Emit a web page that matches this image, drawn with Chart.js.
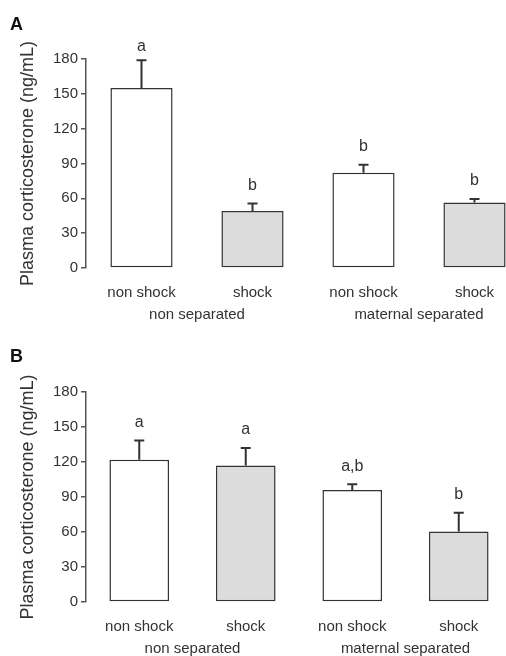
<!DOCTYPE html>
<html>
<head>
<meta charset="utf-8">
<script src="https://cdn.jsdelivr.net/npm/chart.js@4/dist/chart.umd.min.js"></script>
<style>
  html, body { margin: 0; padding: 0; background: #fff; overflow: hidden; }
  #wrap { position: relative; width: 506px; height: 656px; overflow: hidden; }
  canvas { position: absolute; left: 0; }
  #chartA { top: 0; }
  #chartB { top: 326px; }
</style>
</head>
<body>
<div id="wrap">
  <canvas id="chartA" width="530" height="330"></canvas>
  <canvas id="chartB" width="512" height="330"></canvas>
</div>
<script>
// data
const categories = ["non shock", "shock", "non shock", "shock"];
const groups = ["non separated", "maternal separated"];
const barColors = ["#ffffff", "#dcdcdc", "#ffffff", "#dcdcdc"];

const meansA = [155, 49, 82, 56.5];
const errorsA = [24, 6.5, 7, 3];
const lettersA = ["a", "b", "b", "b"];

const meansB = [122, 117, 96, 60.5];
const errorsB = [16.5, 15, 5, 16];
const lettersB = ["a", "a", "a,b", "b"];

const yMax = 180;
const yStep = 30;
const yTitle = "Plasma corticosterone (ng/mL)";

const textColor = "#333";
const axisColor = "#555";
const fontFamily = "'Liberation Sans', Arial, sans-serif";

// error bars + significance letters + group labels + panel letter
const extrasPlugin = {
  id: "extras",
  afterDatasetsDraw(chart, args, opts) {
    const ctx = chart.ctx;
    const meta = chart.getDatasetMeta(0);
    const y = chart.scales.y;
    ctx.save();
    ctx.strokeStyle = "#333";
    ctx.lineWidth = 2;
    meta.data.forEach((bar, i) => {
      const top = y.getPixelForValue(opts.means[i] + opts.errors[i]);
      ctx.beginPath();
      ctx.moveTo(bar.x, bar.y);
      ctx.lineTo(bar.x, top);
      ctx.moveTo(bar.x - 5, top);
      ctx.lineTo(bar.x + 5, top);
      ctx.stroke();

      ctx.fillStyle = textColor;
      ctx.font = "16px " + fontFamily;
      ctx.textAlign = "center";
      ctx.textBaseline = "middle";
      const ly = Math.max(top - 18, chart.chartArea.top - 12);
      ctx.fillText(opts.letters[i], bar.x, ly);
    });

    const x = chart.scales.x;
    ctx.font = "15px " + fontFamily;
    ctx.fillStyle = textColor;
    groups.forEach((g, k) => {
      const cx = (x.getPixelForValue(2 * k) + x.getPixelForValue(2 * k + 1)) / 2;
      ctx.fillText(g, cx, chart.chartArea.bottom + 47);
    });

    ctx.font = "bold 18px " + fontFamily;
    ctx.textAlign = "left";
    ctx.textBaseline = "alphabetic";
    ctx.fillStyle = "#111";
    ctx.fillText(opts.panel, 10, opts.panelY);
    ctx.restore();
  },
};

function makeChart(id, means, errors, letters, panel, panelY, padTop, xHeight) {
  return new Chart(document.getElementById(id), {
    type: "bar",
    data: {
      labels: categories,
      datasets: [{
        data: means,
        backgroundColor: barColors,
        borderColor: "#333",
        borderWidth: 1.5,
        borderSkipped: false,
        barPercentage: 0.56,
        categoryPercentage: 1,
      }],
    },
    options: {
      responsive: false,
      animation: false,
      layout: {padding: {top: padTop, left: 0, right: 0, bottom: 0}},
      plugins: {
        legend: {display: false},
        tooltip: {enabled: false},
        extras: {means, errors, letters, panel, panelY},
      },
      scales: {
        x: {
          grid: {display: false, drawTicks: false},
          border: {display: false},
          ticks: {
            color: textColor,
            font: {family: fontFamily, size: 15},
            padding: 16,
            maxRotation: 0,
          },
          afterFit(scale) { scale.height = xHeight; },
        },
        y: {
          min: 0,
          max: yMax,
          grid: {drawOnChartArea: false, color: axisColor, tickLength: 5, lineWidth: 1.5},
          border: {display: true, color: axisColor, width: 1.5},
          ticks: {
            stepSize: yStep,
            color: textColor,
            padding: 3,
            font: {family: fontFamily, size: 15},
          },
          title: {
            display: true,
            text: yTitle,
            color: textColor,
            font: {family: fontFamily, size: 18},
            padding: {top: 17, bottom: 0},
          },
          afterFit(scale) { scale.width = 86; },
        },
      },
    },
    plugins: [extrasPlugin],
  });
}

makeChart("chartA", meansA, errorsA, lettersA, "A", 30, 59, 62);
makeChart("chartB", meansB, errorsB, lettersB, "B", 36, 66, 54);
</script>
</body>
</html>
